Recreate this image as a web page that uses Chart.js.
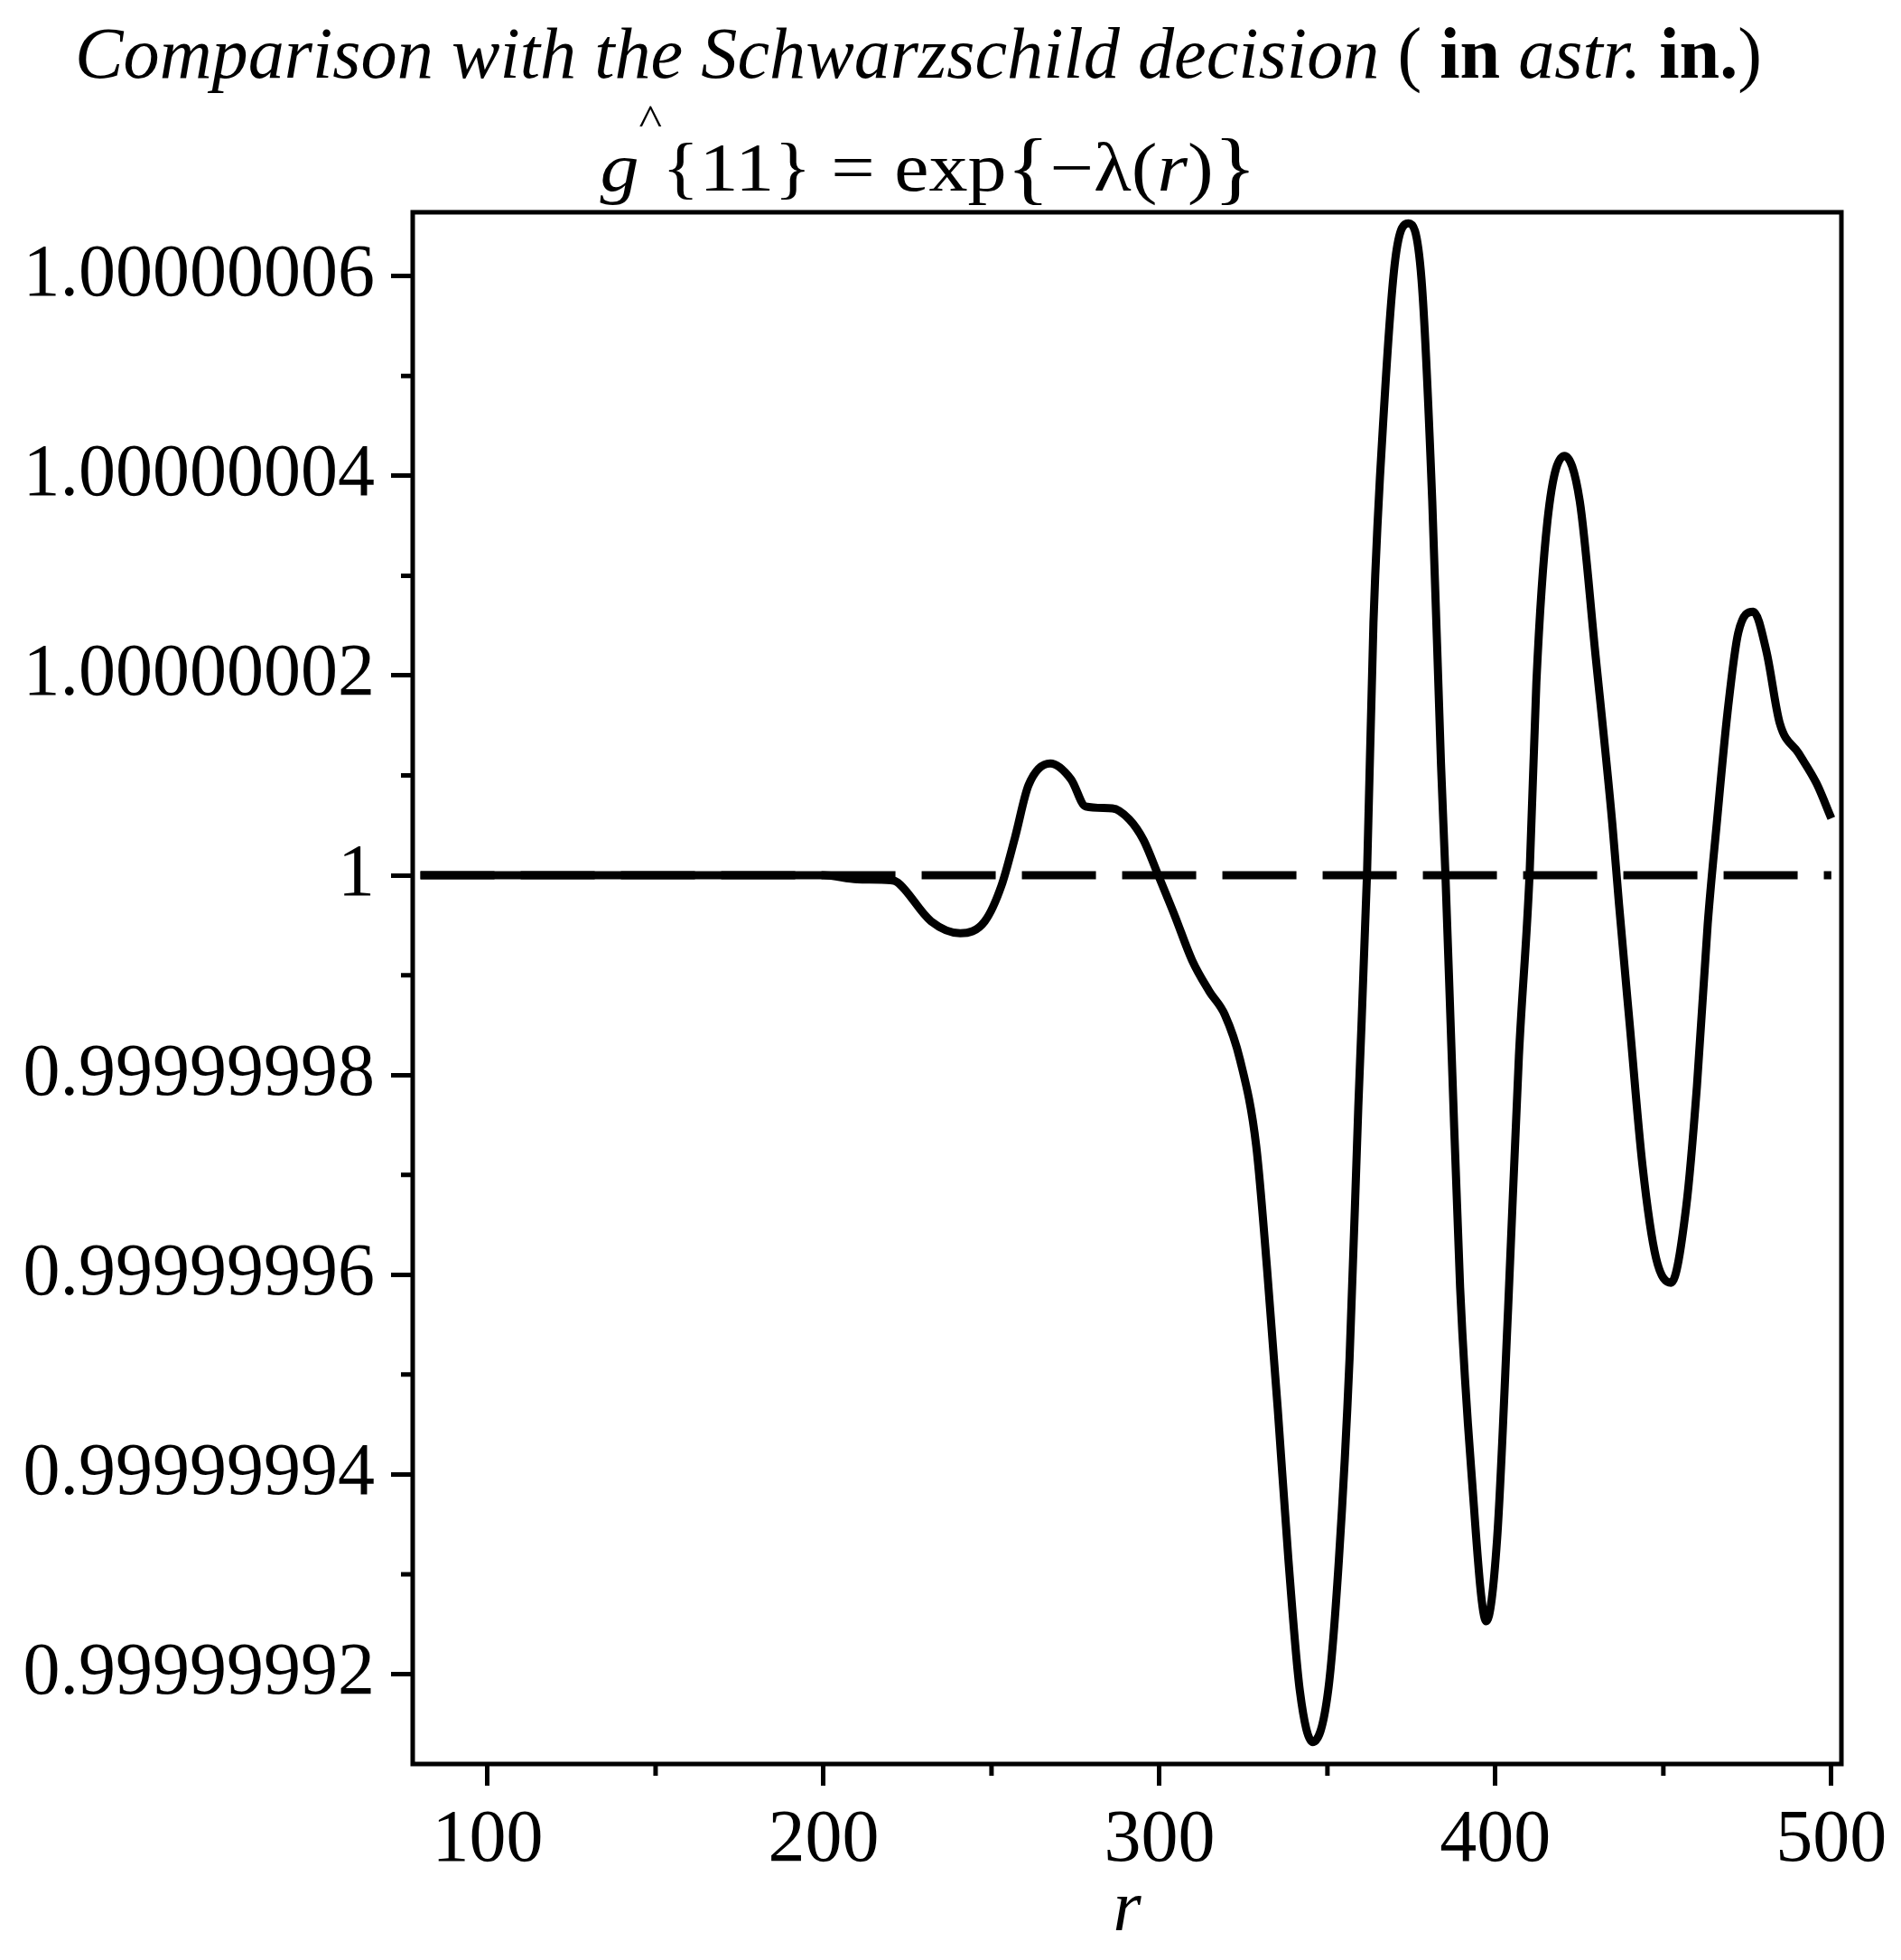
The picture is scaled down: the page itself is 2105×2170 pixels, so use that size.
<!DOCTYPE html>
<html>
<head>
<meta charset="utf-8">
<script src="https://cdn.jsdelivr.net/npm/chart.js@4.4.0/dist/chart.umd.min.js"></script>
<style>
    html, body { margin: 0; padding: 0; background: #fff; }
    #wrap { width: 2105px; height: 2170px; }
</style>
</head>
<body>
<div id="wrap"><canvas id="g11Chart" width="2105" height="2170"></canvas></div>
<script>
// r values and the deviation of g^{11} from 1, in units of 1e-8
const rValues = [80, 100, 150, 200, 210, 220, 222, 232, 240.7, 248, 253, 257, 261, 267.5, 273.7, 278, 286, 291, 295.3, 299.4,
    304.5, 309.7, 314.8, 319.5, 324, 328.8, 332, 335.2, 338.4, 341.8, 345.6, 350.2, 353.4, 356.6, 359.2, 361.8, 363.7,
    367, 370.2, 374.1, 378, 381.2, 383.8, 385.1, 387, 389.5, 392.8, 397.3, 400.5, 403.8, 407, 410.2, 412.2, 415.5,
    420.6, 425.1, 429.7, 434.8, 436.8, 440, 443.8, 447.8, 452.3, 456.8, 460, 463.2, 465.9, 469.1, 472.3, 476.8,
    480.7, 484.6, 490.3, 495.6, 500];
const gDeviation = [0, 0, 0, 0, -0.04, -0.05, -0.07, -0.46, -0.58, -0.46, -0.1, 0.38, 0.9, 1.12, 0.96, 0.69, 0.67, 0.56, 0.35, 0.02,
    -0.4, -0.85, -1.16, -1.4, -1.85, -2.71, -3.93, -5.34, -6.86, -8.17, -8.68, -8.17, -6.86, -4.83, -2.31, 0.03, 2.53,
    4.76, 6.17, 6.53, 5.97, 3.75, 1.12, 0.03, -1.81, -4.13, -5.95, -7.47, -6.65, -4.33, -1.81, 0.03, 1.93, 3.55,
    4.2, 3.75, 2.24, 0.52, -0.29, -1.5, -2.91, -3.83, -4.08, -3.32, -2.11, -0.49, 0.52, 1.63, 2.43, 2.64,
    2.24, 1.53, 1.22, 0.92, 0.57];

// Schwarzschild reference (dashed line, g^{11} = 1)
const schwarzR = [80, 500];
const schwarzDeviation = [0, 0];

const xTickValues = [100, 200, 300, 400, 500];
const xMinorTicks = [150, 250, 350, 450];
const yTickValues = [-8, -6, -4, -2, 0, 2, 4, 6];
const yTickLabels = ['0.99999992', '0.99999994', '0.99999996', '0.99999998', '1', '1.00000002', '1.00000004', '1.00000006'];
const yMinorTicks = [-7, -5, -3, -1, 1, 3, 5];

const serif = '"Liberation Serif", "Times New Roman", serif';

function drawRuns(ctx, runs, cx, y, targetWidth) {
    let total = 0;
    runs.forEach(run => {
        ctx.font = run.font;
        total += ctx.measureText(run.text).width;
    });
    const k = targetWidth ? targetWidth / total : 1;
    ctx.save();
    ctx.translate(cx - total * k / 2, y);
    ctx.scale(k, 1);
    let x = 0;
    runs.forEach(run => {
        ctx.font = run.font;
        ctx.fillText(run.text, x, run.dy || 0);
        x += ctx.measureText(run.text).width;
    });
    ctx.restore();
}

const mapleFrame = {
    id: 'mapleFrame',
    afterDraw(chart) {
        const ctx = chart.ctx;
        const area = chart.chartArea;
        const xs = chart.scales.x;
        const ys = chart.scales.y;
        ctx.save();
        ctx.strokeStyle = '#000';
        ctx.lineWidth = 5;
        ctx.strokeRect(area.left, area.top, area.right - area.left, area.bottom - area.top);

        // minor ticks
        ctx.lineWidth = 5;
        ctx.beginPath();
        xMinorTicks.forEach(v => {
            const px = xs.getPixelForValue(v);
            ctx.moveTo(px, area.bottom);
            ctx.lineTo(px, area.bottom + 13);
        });
        yMinorTicks.forEach(v => {
            const py = ys.getPixelForValue(v);
            ctx.moveTo(area.left, py);
            ctx.lineTo(area.left - 13, py);
        });
        ctx.stroke();

        // title
        ctx.fillStyle = '#000';
        ctx.textBaseline = 'alphabetic';
        drawRuns(ctx, [
            { text: 'Comparison with the Schwarzschild decision', font: 'italic 80px ' + serif },
            { text: ' ( ', font: '80px ' + serif },
            { text: 'in', font: 'bold 80px ' + serif },
            { text: ' ', font: '80px ' + serif },
            { text: 'astr.', font: 'italic 80px ' + serif },
            { text: ' ', font: '80px ' + serif },
            { text: 'in.', font: 'bold 80px ' + serif },
            { text: ')', font: '80px ' + serif }
        ], 1017, 86, 1868);
        drawRuns(ctx, [
            { text: 'g', font: 'italic 76px ' + serif },
            { text: '^', font: '48px ' + serif, dy: -62 },
            { text: '{11} = exp', font: '76px ' + serif },
            { text: '{', font: '88px ' + serif, dy: 4 },
            { text: '\u2212\u03bb(', font: '76px ' + serif },
            { text: 'r', font: 'italic 76px ' + serif },
            { text: ')', font: '76px ' + serif },
            { text: '}', font: '88px ' + serif, dy: 4 }
        ], 1028, 211, 727);
        ctx.restore();
    }
};

const ctx = document.getElementById('g11Chart');
new Chart(ctx, {
    type: 'line',
    data: {
        datasets: [{
            label: 'g^{11}',
            data: rValues.map((r, i) => ({ x: r, y: gDeviation[i] })),
            borderColor: '#000',
            borderWidth: 9,
            pointRadius: 0,
            cubicInterpolationMode: 'monotone',
            fill: false
        }, {
            label: 'Schwarzschild',
            data: schwarzR.map((r, i) => ({ x: r, y: schwarzDeviation[i] })),
            borderColor: '#000',
            borderWidth: 9,
            borderDash: [82, 29],
            borderCapStyle: 'butt',
            pointRadius: 0,
            fill: false
        }]
    },
    options: {
        responsive: false,
        animation: false,
        layout: {
            padding: { top: 235, left: 0, right: 66, bottom: 0 }
        },
        plugins: {
            legend: { display: false },
            title: { display: false },
            tooltip: { enabled: false }
        },
        scales: {
            x: {
                type: 'linear',
                min: 77.7,
                max: 503,
                afterBuildTicks: scale => {
                    scale.ticks = xTickValues.map(v => ({ value: v }));
                },
                afterFit: scale => { scale.height = 217; },
                border: { display: false },
                grid: {
                    drawOnChartArea: false,
                    drawTicks: true,
                    tickLength: 24,
                    tickWidth: 5,
                    tickColor: '#000'
                },
                ticks: {
                    color: '#000',
                    padding: 12,
                    maxRotation: 0,
                    font: { family: serif, size: 82 },
                    callback: value => String(value)
                },
                title: {
                    display: true,
                    text: 'r',
                    color: '#000',
                    font: { family: serif, size: 80, style: 'italic' },
                    padding: { top: 0, bottom: 6 }
                }
            },
            y: {
                type: 'linear',
                min: -8.9,
                max: 6.64,
                afterBuildTicks: scale => {
                    scale.ticks = yTickValues.map(v => ({ value: v }));
                },
                afterFit: scale => { scale.width = 457; },
                border: { display: false },
                grid: {
                    drawOnChartArea: false,
                    drawTicks: true,
                    tickLength: 24,
                    tickWidth: 5,
                    tickColor: '#000'
                },
                ticks: {
                    color: '#000',
                    padding: 18,
                    font: { family: serif, size: 82 },
                    callback: value => yTickLabels[yTickValues.indexOf(value)]
                }
            }
        }
    },
    plugins: [mapleFrame]
});
</script>
</body>
</html>
